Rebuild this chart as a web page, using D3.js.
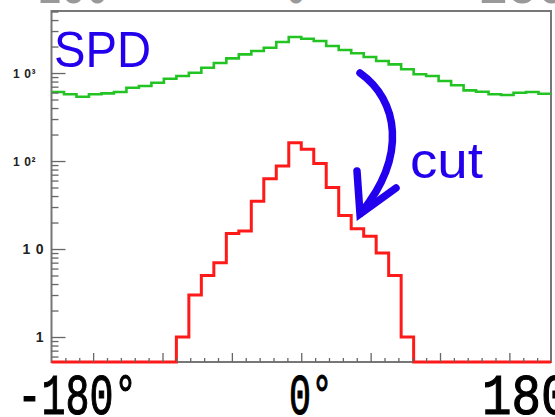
<!DOCTYPE html>
<html>
<head>
<meta charset="utf-8">
<script src="https://cdn.jsdelivr.net/npm/d3@7"></script>
<style>
  html, body { margin: 0; padding: 0; background: #fff; }
  svg { display: block; }
</style>
</head>
<body>
<svg id="chart" width="555" height="417"></svg>
<script>
// 40 phi bins of 9 degrees
var binEdges = d3.range(-180, 181, 9);
var spdAll = [608, 573, 538, 573, 588, 608, 681, 711, 776, 861,
              925, 1008, 1148, 1300, 1468, 1631, 1778, 1939, 2249, 2563,
              2454, 2310, 2028, 1824, 1675, 1520, 1369, 1256, 1102, 967,
              925, 811, 725, 636, 613, 573, 562, 597, 608, 582];
var spdCut = [0, 0, 0, 0, 0, 0, 0, 0, 0, 0,
              1, 3, 5, 7, 15, 16, 35, 63, 88, 161,
              136, 94, 50, 24, 17, 14, 9, 5, 1, 0,
              0, 0, 0, 0, 0, 0, 0, 0, 0, 0];
var xLabels = ["-180°", "0°", "180°"];
var yTicks = [1, 10, 100, 1000];
var yTickLabels = ["1", "10", "10²", "10³"];

window.onload = function () {
    var svg = d3.select("#chart");
    var frame = {left: 51.5, right: 551, top: 11, bottom: 362};

    var x = d3.scaleLinear().domain([-180, 180]).range([frame.left, frame.right]);
    var y = d3.scaleLog().domain([0.52, 5070]).range([frame.bottom, frame.top]);
    var ymin = y.domain()[0];

    // frame
    svg.append("rect")
        .attr("x", frame.left).attr("y", frame.top)
        .attr("width", frame.right - frame.left)
        .attr("height", frame.bottom - frame.top)
        .attr("fill", "none").attr("stroke", "#777").attr("stroke-width", 2);

    // histograms
    function stepPoints(vals) {
        var pts = vals.map(function (v, i) { return [binEdges[i], Math.max(v, ymin)]; });
        pts.push([binEdges[vals.length], Math.max(vals[vals.length - 1], ymin)]);
        return pts;
    }
    var line = d3.line()
        .x(function (d) { return x(d[0]); })
        .y(function (d) { return y(d[1]); })
        .curve(d3.curveStepAfter);

    svg.append("path").attr("d", line(stepPoints(spdAll)))
        .attr("fill", "none").attr("stroke", "#22c322").attr("stroke-width", 2.6);
    svg.append("path").attr("d", line(stepPoints(spdCut)))
        .attr("fill", "none").attr("stroke", "#ff1a1a").attr("stroke-width", 3);

    // x axis ticks
    var xMajor = [-150, -100, -50, 0, 50, 100, 150];
    var xMinor = d3.range(-170, 180, 10).filter(function (v) { return xMajor.indexOf(v) < 0; });
    [[xMinor, -4], [xMajor, -9]].forEach(function (t) {
        var g = svg.append("g").attr("transform", "translate(0," + frame.bottom + ")")
            .call(d3.axisBottom(x).tickValues(t[0]).tickSize(t[1]).tickSizeOuter(0).tickFormat(""));
        g.select(".domain").remove();
        g.selectAll("line").attr("stroke", "#666").attr("stroke-width", 1.3);
    });

    // y axis ticks
    var yMinor = [];
    [0.1, 1, 10, 100, 1000].forEach(function (dec) {
        for (var k = 2; k <= 9; k++) {
            var v = dec * k;
            if (v >= ymin && v <= y.domain()[1]) yMinor.push(v);
        }
    });
    [[yMinor, -7], [yTicks, -14]].forEach(function (t) {
        var g = svg.append("g").attr("transform", "translate(" + frame.left + ",0)")
            .call(d3.axisLeft(y).tickValues(t[0]).tickSize(t[1]).tickSizeOuter(0).tickFormat(""));
        g.select(".domain").remove();
        g.selectAll("line").attr("stroke", "#666").attr("stroke-width", 1.3);
    });

    // y tick labels
    var labFont = "Liberation Sans, Arial, sans-serif";
    yTickLabels.forEach(function (lab, i) {
        var yy = y(yTicks[i]) + 4.5;
        if (lab.length > 2) {
            svg.append("text").attr("x", 31).attr("y", yy)
                .attr("text-anchor", "end")
                .attr("font-family", labFont).attr("font-weight", "bold")
                .attr("font-size", 12).attr("fill", "#222")
                .attr("textLength", 18)
                .text(lab.slice(0, 2));
            svg.append("text").attr("x", 31.5).attr("y", yy)
                .attr("font-family", labFont).attr("font-weight", "bold")
                .attr("font-size", 12).attr("fill", "#222")
                .text(lab.slice(2));
        } else {
            svg.append("text").attr("x", 43.5).attr("y", yy)
                .attr("text-anchor", "end")
                .attr("font-family", labFont).attr("font-weight", "bold")
                .attr("font-size", 14).attr("fill", "#222")
                .attr("textLength", lab.length === 1 ? 7.5 : 21)
                .text(lab);
        }
    });

    // x labels (big), plus the cut-off ones from the panel above
    var xl = [[17.5, 120], [289, 44], [482, 118]];
    xLabels.forEach(function (lab, i) {
        svg.append("text")
            .attr("x", xl[i][0]).attr("y", 413.5)
            .attr("font-family", "Liberation Mono, monospace")
            .attr("font-size", 58)
            .attr("textLength", xl[i][1]).attr("lengthAdjust", "spacingAndGlyphs")
            .attr("fill", "#000").attr("stroke", "#000").attr("stroke-width", 1.2)
            .text(lab);
        svg.append("text")
            .attr("x", xl[i][0] - 4).attr("y", 2.5)
            .attr("font-family", "Liberation Mono, monospace")
            .attr("font-size", 58)
            .attr("textLength", xl[i][1]).attr("lengthAdjust", "spacingAndGlyphs")
            .attr("fill", "#999")
            .text(lab);
    });

    // annotations
    var blue = "#2200ee";
    svg.append("text").attr("x", 54).attr("y", 67)
        .attr("font-family", labFont)
        .attr("font-size", 50).attr("fill", blue)
        .attr("textLength", 97).attr("lengthAdjust", "spacingAndGlyphs")
        .text("SPD");
    svg.append("text").attr("x", 410).attr("y", 178)
        .attr("font-family", labFont)
        .attr("font-size", 50).attr("fill", blue)
        .attr("textLength", 73).attr("lengthAdjust", "spacingAndGlyphs")
        .text("cut");

    svg.append("path").attr("d", "M360,73 C398,100 408,155 361,213")
        .attr("fill", "none").attr("stroke", blue).attr("stroke-width", 7.5)
        .attr("stroke-linecap", "round");
    svg.append("path").attr("d", "M357,171 L360,214 L396,188")
        .attr("fill", "none").attr("stroke", blue).attr("stroke-width", 7.5)
        .attr("stroke-linecap", "round").attr("stroke-linejoin", "miter");
};
</script>
</body>
</html>
